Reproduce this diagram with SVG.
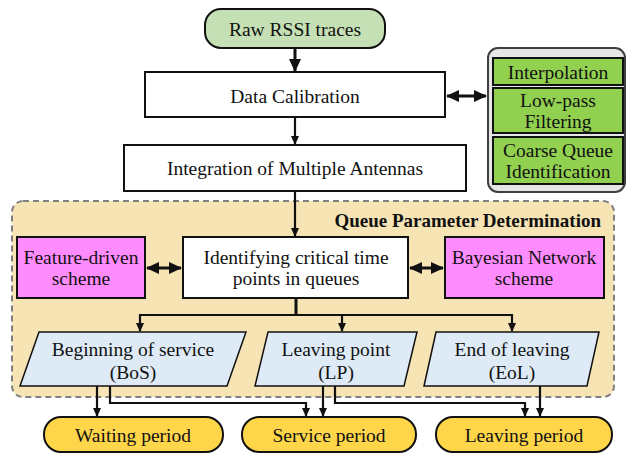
<svg xmlns="http://www.w3.org/2000/svg" width="627" height="454" viewBox="0 0 627 454">
  <style>
    text { font-family: "Liberation Serif", "Times New Roman", serif; font-size: 19.5px; fill: #111; text-anchor: middle; dominant-baseline: central; }
    .box { fill: #ffffff; stroke: #111; stroke-width: 2; }
    .green { fill: #92d050; stroke: #111; stroke-width: 2; }
    .pink { fill: #ff8cff; stroke: #111; stroke-width: 2; }
    .para { fill: #deebf7; stroke: #111; stroke-width: 1.5; }
    .gold { fill: #ffd54a; stroke: #111; stroke-width: 2; }
    .line { fill: none; stroke: #111; stroke-width: 2.2; }
    .thick { fill: none; stroke: #111; stroke-width: 3; }
  </style>
  <defs>
    <marker id="head" markerUnits="userSpaceOnUse" markerWidth="10" markerHeight="10" refX="8" refY="5" orient="auto">
      <path d="M0,1 L9,5 L0,9 Z" fill="#111"/>
    </marker>
    <marker id="headBig" markerUnits="userSpaceOnUse" markerWidth="14" markerHeight="14" refX="12" refY="7" orient="auto-start-reverse">
      <path d="M0,1 L13,7 L0,13 Z" fill="#111"/>
    </marker>
  </defs>

  <!-- queue parameter determination panel -->
  <g id="qpd-panel">
    <rect x="12" y="201" width="602" height="196" rx="11" fill="#f6e4b4" stroke="#808080" stroke-width="2" stroke-dasharray="6 4"/>
    <text x="601" y="220" style="font-weight:bold;text-anchor:end;font-size:19px">Queue Parameter Determination</text>
  </g>

  <g id="raw">
    <rect x="205" y="9" width="180" height="39" rx="16" fill="#c5e0b4" stroke="#111" stroke-width="2"/>
    <text x="295" y="29">Raw RSSI traces</text>
  </g>

  <g id="calibration">
    <rect class="box" x="145" y="72" width="300" height="45"/>
    <text x="295" y="96">Data Calibration</text>
  </g>

  <g id="integration">
    <rect class="box" x="124" y="145" width="342" height="46"/>
    <text x="295" y="168">Integration of Multiple Antennas</text>
  </g>

  <g id="calibration-steps">
    <rect x="488" y="48" width="137" height="144" rx="10" fill="#e6e6e6" stroke="#3f3f3f" stroke-width="2"/>
    <g id="interpolation">
      <rect class="green" x="493" y="58" width="130" height="27"/>
      <text x="558" y="72">Interpolation</text>
    </g>
    <g id="lowpass">
      <rect class="green" x="493" y="88" width="130" height="45"/>
      <text x="558" y="100">Low-pass</text>
      <text x="558" y="121">Filtering</text>
    </g>
    <g id="coarse">
      <rect class="green" x="493" y="137" width="130" height="47"/>
      <text x="558" y="150">Coarse Queue</text>
      <text x="558" y="171">Identification</text>
    </g>
  </g>

  <g id="feature">
    <rect class="pink" x="17" y="237" width="128" height="61"/>
    <text x="81" y="257">Feature-driven</text>
    <text x="81" y="278">scheme</text>
  </g>

  <g id="identify">
    <rect class="box" x="183" y="237" width="225" height="61"/>
    <text x="296" y="257">Identifying critical time</text>
    <text x="296" y="278">points in queues</text>
  </g>

  <g id="bayesian">
    <rect class="pink" x="445" y="237" width="159" height="61"/>
    <text x="524" y="257">Bayesian Network</text>
    <text x="524" y="278">scheme</text>
  </g>

  <g id="bos">
    <polygon class="para" points="39,332 246,332 227,386 20,386"/>
    <text x="133" y="349">Beginning of service</text>
    <text x="133" y="372">(BoS)</text>
  </g>

  <g id="lp">
    <polygon class="para" points="268,332 417,332 404,386 255,386"/>
    <text x="336" y="349">Leaving point</text>
    <text x="336" y="372">(LP)</text>
  </g>

  <g id="eol">
    <polygon class="para" points="436,332 599,332 587,386 424,386"/>
    <text x="512" y="349">End of leaving</text>
    <text x="512" y="372">(EoL)</text>
  </g>

  <g id="waiting">
    <rect class="gold" x="44" y="417" width="179" height="35" rx="17"/>
    <text x="133" y="435">Waiting period</text>
  </g>

  <g id="service">
    <rect class="gold" x="242" y="417" width="174" height="35" rx="17"/>
    <text x="329" y="435">Service period</text>
  </g>

  <g id="leaving">
    <rect class="gold" x="436" y="417" width="176" height="35" rx="17"/>
    <text x="524" y="435">Leaving period</text>
  </g>

  <g id="connectors">
    <path class="thick" d="M295,48 V71" marker-end="url(#headBig)"/>
    <path class="line" d="M295,117 V144" marker-end="url(#head)"/>
    <path class="line" d="M295,191 V236" marker-end="url(#head)"/>
    <path class="thick" d="M447,96 H486" marker-start="url(#headBig)" marker-end="url(#headBig)"/>
    <path class="thick" d="M147,268 H181" marker-start="url(#headBig)" marker-end="url(#headBig)"/>
    <path class="thick" d="M410,268 H443" marker-start="url(#headBig)" marker-end="url(#headBig)"/>
    <path class="thick" d="M296,298 V315"/>
    <path class="line" d="M140,315 H512"/>
    <path class="line" d="M140,314 V331" marker-end="url(#head)"/>
    <path class="line" d="M342,314 V331" marker-end="url(#head)"/>
    <path class="line" d="M512,314 V331" marker-end="url(#head)"/>
    <path class="line" d="M97,386 V416" marker-end="url(#head)"/>
    <path class="line" d="M110,386 V403 H306 V416" marker-end="url(#head)"/>
    <path class="line" d="M323,386 V416" marker-end="url(#head)"/>
    <path class="line" d="M335,386 V403 H525 V416" marker-end="url(#head)"/>
    <path class="line" d="M540,386 V416" marker-end="url(#head)"/>
  </g>
</svg>
